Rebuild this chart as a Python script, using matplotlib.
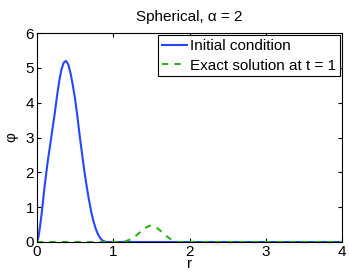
import numpy as np
import matplotlib.pyplot as plt

plt.rcParams['font.family'] = ['Liberation Sans', 'DejaVu Sans']

# initial condition
r_init = [0.0, 0.02, 0.04, 0.06, 0.08, 0.10, 0.12, 0.14, 0.16, 0.18, 0.20, 0.23,
          0.26, 0.29, 0.32, 0.35, 0.38, 0.41, 0.44, 0.47, 0.50, 0.53, 0.56, 0.59,
          0.62, 0.65, 0.68, 0.71, 0.74, 0.77, 0.80, 0.83, 0.86, 0.89, 0.92, 4.0]
phi_init = [0.0, 0.15, 0.45, 0.8, 1.2, 1.6, 1.95, 2.3, 2.6, 2.9, 3.2, 3.65,
            4.15, 4.6, 4.95, 5.15, 5.2, 5.1, 4.85, 4.5, 4.1, 3.6, 3.05, 2.55,
            2.05, 1.62, 1.23, 0.88, 0.6, 0.38, 0.22, 0.11, 0.04, 0.01, 0.0, 0.0]

# exact solution at t = 1
r_exact = [0.0, 1.10, 1.16, 1.22, 1.28, 1.34, 1.40, 1.45, 1.48, 1.52, 1.57, 1.62,
           1.68, 1.74, 1.80, 1.86, 4.0]
phi_exact = [0.0, 0.0, 0.02, 0.07, 0.15, 0.26, 0.37, 0.44, 0.47, 0.46, 0.41, 0.32,
             0.2, 0.1, 0.03, 0.0, 0.0]

fig = plt.figure(figsize=(3.49, 2.78), dpi=100)
ax = fig.add_axes([0.106, 0.1295, 0.874, 0.7515])

ax.plot(r_init, phi_init, color='#2448ff', lw=1.5, label='Initial condition')
ax.plot(r_exact, phi_exact, color='#2db21a', lw=1.5, ls=(0, (3, 3)),
        label='Exact solution at t = 1')

ax.set_xlim(0, 4)
ax.set_ylim(0, 6)
ax.set_xticks([0, 1, 2, 3, 4])
ax.set_yticks([0, 1, 2, 3, 4, 5, 6])
ax.tick_params(direction='in', top=True, right=True, labelsize=11, length=3, pad=2)
ax.set_title('Spherical, α = 2', fontsize=11, pad=9)
ax.set_xlabel('r', fontsize=11, labelpad=-1)
ax.set_ylabel('φ', fontsize=11, labelpad=5)

leg = ax.legend(loc='upper right', fontsize=11, fancybox=False, edgecolor='black',
                framealpha=1, borderaxespad=0.15, borderpad=0.25, labelspacing=0.35,
                handlelength=1.6, handletextpad=0.2)
leg.get_frame().set_linewidth(0.8)

fig.savefig('out.png', dpi=100)
